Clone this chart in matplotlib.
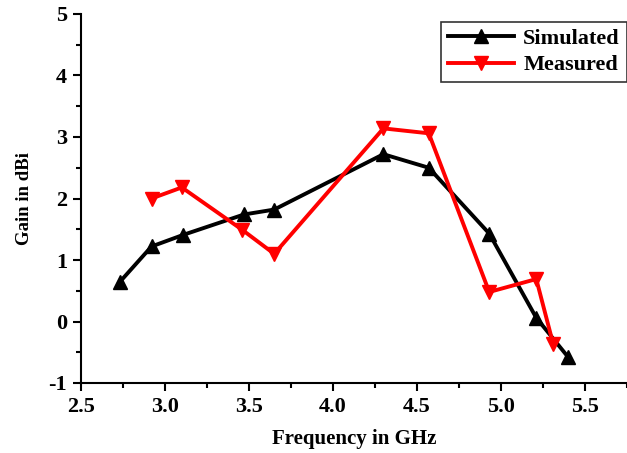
import matplotlib
matplotlib.use("Agg")
import matplotlib.pyplot as plt
from matplotlib.ticker import MultipleLocator, FormatStrFormatter

sim_x = [2.73, 2.92, 3.11, 3.47, 3.65, 4.30, 4.57, 4.93, 5.21, 5.40]
sim_y = [0.64, 1.22, 1.41, 1.74, 1.82, 2.72, 2.50, 1.43, 0.06, -0.58]
mea_x = [2.92, 3.10, 3.46, 3.65, 4.30, 4.57, 4.93, 5.21, 5.31]
mea_y = [2.00, 2.18, 1.49, 1.10, 3.14, 3.06, 0.48, 0.69, -0.36]

plt.rcParams['font.family'] = ['Liberation Serif', 'DejaVu Serif']
plt.rcParams['font.weight'] = 'bold'
plt.rcParams['axes.unicode_minus'] = False

fig = plt.figure(figsize=(6.27, 4.53), dpi=100)
ax = fig.add_axes([81/627, 1-383/453, 1-81/627, (383-14)/453])

ax.plot(sim_x, sim_y, color='black', lw=2.8, marker='^', ms=10, label='Simulated')
ax.plot(mea_x, mea_y, color='red', lw=2.8, marker='v', ms=10, label='Measured')

ax.set_xlim(2.5, 2.5 + 546/168)
ax.set_ylim(-1, 5)
ax.xaxis.set_major_locator(MultipleLocator(0.5))
ax.xaxis.set_minor_locator(MultipleLocator(0.25))
ax.yaxis.set_major_locator(MultipleLocator(1))
ax.yaxis.set_minor_locator(MultipleLocator(0.5))
ax.xaxis.set_major_formatter(FormatStrFormatter('%.1f'))
ax.yaxis.set_major_formatter(FormatStrFormatter('%d'))

for s in ['top', 'right']:
    ax.spines[s].set_visible(False)
for s in ['left', 'bottom']:
    ax.spines[s].set_linewidth(1.5)
ax.tick_params(which='major', direction='out', length=6, width=1.5, labelsize=16, pad=4)
ax.tick_params(which='minor', direction='out', length=3.5, width=1.5)
for lbl in ax.get_xticklabels() + ax.get_yticklabels():
    lbl.set_fontweight('bold')

ax.set_xlabel('Frequency in GHz', fontsize=15, fontweight='bold', labelpad=9)
ax.set_ylabel('Gain in dBi', fontsize=13.5, fontweight='bold', labelpad=11)

leg = ax.legend(loc='upper left', bbox_to_anchor=(441/627, 1-22/453),
                bbox_transform=fig.transFigure, frameon=True, fancybox=False,
                edgecolor='black', prop={'weight': 'bold', 'size': 16},
                handlelength=3.0, borderpad=0.3, labelspacing=0.25,
                handletextpad=0.4, borderaxespad=0)
leg.get_frame().set_linewidth(1.2)

fig.savefig('out.png', dpi=100)
